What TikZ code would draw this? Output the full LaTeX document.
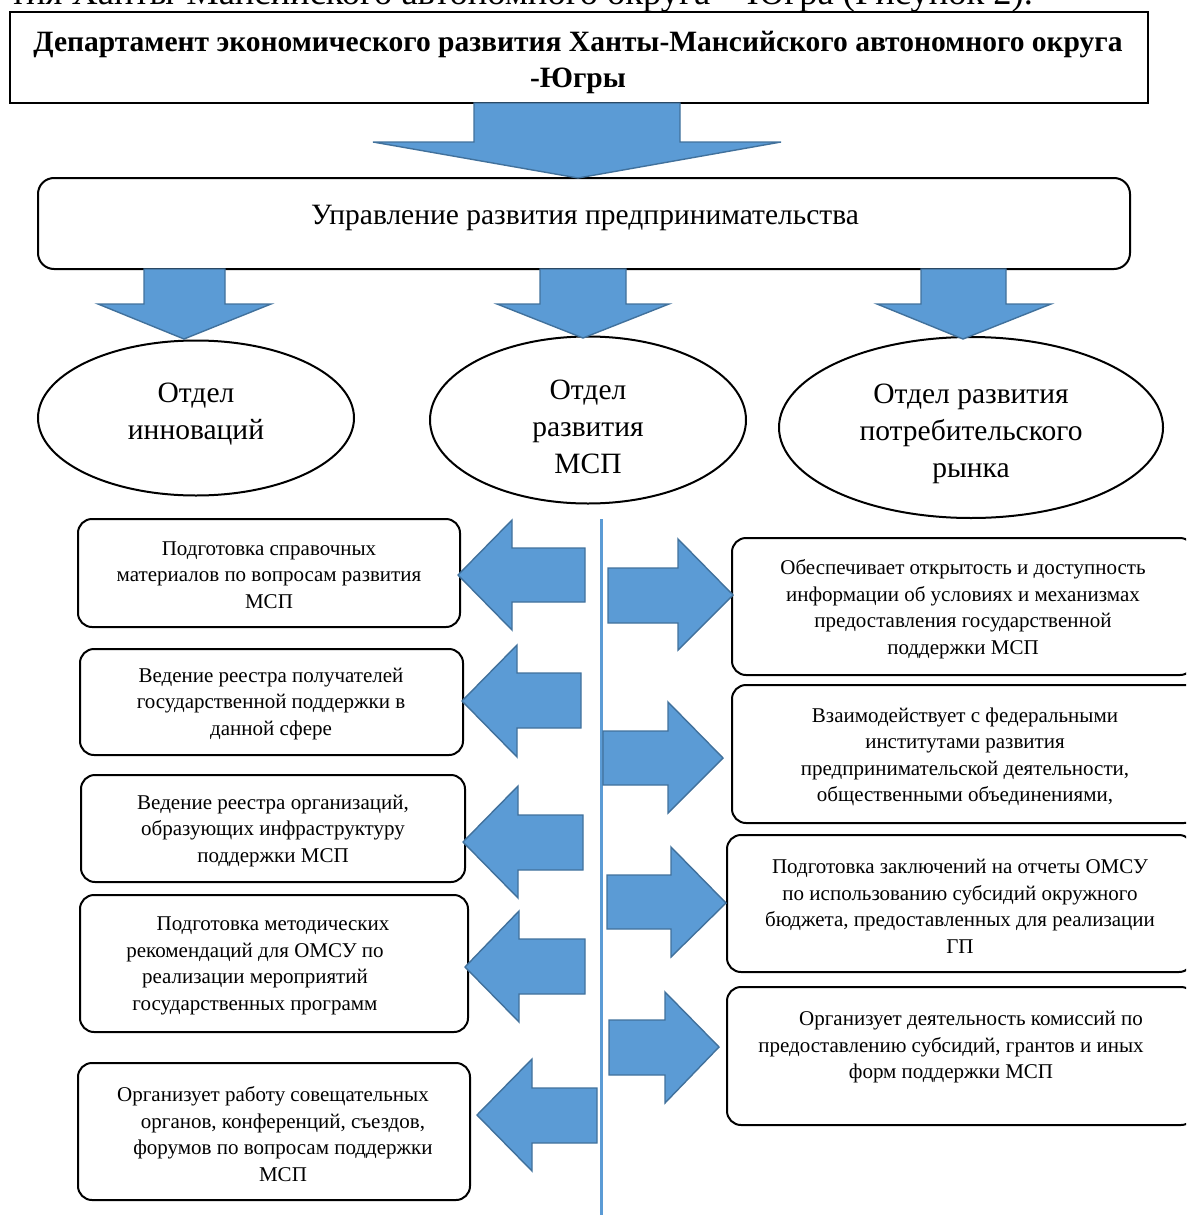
\documentclass[tikz,border=0pt]{standalone}
\usepackage{fontspec}
\setmainfont{Liberation Serif}
\usetikzlibrary{shapes.geometric}
\definecolor{arrfill}{HTML}{5B9BD5}
\definecolor{arrline}{HTML}{41719C}
\tikzset{
  blockarrow/.style={fill=arrfill, draw=arrline, line width=1.4pt, line join=miter},
  framebox/.style={draw=black, line width=2pt, rectangle, inner sep=0pt},
  roundbox/.style={draw=black, line width=2pt, rectangle, rounded corners=14pt, inner sep=0pt},
  oval/.style={draw=black, line width=2pt, ellipse, inner sep=0pt},
  boxtext/.style={align=center, font=\fontsize{21}{26.5}\selectfont, inner sep=0pt},
  bigtext/.style={align=center, font=\fontsize{29.5}{37}\selectfont, inner sep=0pt},
  vline/.style={draw=arrfill, line width=3pt}
}
\newcommand{\blockH}[8]{\draw[blockarrow] (#1,#2) -- (#3,#5) -- (#3,#7) -- (#4,#7) -- (#4,#8) -- (#3,#8) -- (#3,#6) -- cycle;}
\begin{document}
\begin{tikzpicture}[x=1pt,y=-1pt]
\useasboundingbox (0,0) rectangle (1186,1215);
\clip (0,0) rectangle (1186,1215);
% cut-off line of running text above the figure
\node[anchor=base west, inner sep=0pt, font=\fontsize{36.5}{40}\selectfont] (caption) at (10,5) {тия Ханты-Мансийского автономного округа – Югра (Рисунок 2).};

% top frame
\node[framebox, minimum width=1138pt, minimum height=91pt] (dep) at (579,57.5) {};
\node[align=center, inner sep=0pt, font=\fontsize{29.5}{36}\selectfont\bfseries] (dept) at (578,62)
  {Департамент экономического развития Ханты-Мансийского автономного округа\\-Югры};

% management box
\node[roundbox, minimum width=1092pt, minimum height=91pt, rounded corners=16pt] (upr) at (584,223.5) {};
\node[bigtext] (uprt) at (585,218) {Управление развития предпринимательства};

% ellipses
\node[oval, minimum width=316pt, minimum height=155pt] (e1) at (196,418) {};
\node[oval, minimum width=316pt, minimum height=167pt] (e2) at (588,420) {};
\node[oval, minimum width=384pt, minimum height=181pt] (e3) at (971,427.5) {};
\node[bigtext] (e1t) at (196,414.5) {Отдел\\инноваций};
\node[bigtext] (e2t) at (588,427) {Отдел\\развития\\МСП};
\node[bigtext] (e3t) at (971,434) {Отдел развития\\потребительского\\рынка};

% left boxes
\node[roundbox, minimum width=382pt, minimum height=108pt] (l1) at (269,573) {};
\node[roundbox, minimum width=383pt, minimum height=106pt] (l2) at (271.5,702) {};
\node[roundbox, minimum width=384pt, minimum height=107pt] (l3) at (273,828.5) {};
\node[roundbox, minimum width=388pt, minimum height=137pt] (l4) at (274,963.5) {};
\node[roundbox, minimum width=392pt, minimum height=137pt] (l5) at (274,1131.5) {};
\node[boxtext] (l1t) at (269,575) {Подготовка справочных\\материалов по вопросам развития\\МСП};
\node[boxtext] (l2t) at (271,704) {Ведение реестра получателей\\государственной поддержки в\\данной сфере};
\node[boxtext] (l3t) at (273,831) {Ведение реестра организаций,\\образующих инфраструктуру\\поддержки МСП};
\node[boxtext] (l4t) at (255,966) {\hspace*{36pt}Подготовка методических\\рекомендаций для ОМСУ по\\реализации мероприятий\\государственных программ};
\node[boxtext] (l5t) at (283,1134) {Организует работу совещательных\hspace*{20pt}\\органов, конференций, съездов,\\форумов по вопросам поддержки\\МСП};

% right boxes
\node[roundbox, minimum width=462pt, minimum height=137pt] (r1) at (963,606.5) {};
\node[roundbox, minimum width=466pt, minimum height=138pt] (r2) at (965,754) {};
\node[roundbox, minimum width=466pt, minimum height=137pt] (r3) at (960,903.5) {};
\node[roundbox, minimum width=468pt, minimum height=138pt] (r4) at (961,1056) {};
\node[boxtext] (r1t) at (963,609) {Обеспечивает открытость и доступность\\информации об условиях и механизмах\\предоставления государственной\\поддержки МСП};
\node[boxtext] (r2t) at (965,757) {Взаимодействует с федеральными\\институтами развития\\предпринимательской деятельности,\\общественными объединениями,};
\node[boxtext] (r3t) at (960,906.5) {Подготовка заключений на отчеты ОМСУ\\по использованию субсидий окружного\\бюджета, предоставленных для реализации\\ГП};
\node[boxtext] (r4t) at (951,1047.5) {\hspace*{40pt}Организует деятельность комиссий по\\предоставлению субсидий, грантов и иных\\форм поддержки МСП};

% central vertical line
\coordinate (vtop) at (601,519);
\coordinate (vbot) at (601,1220);
\draw[vline] (vtop) -- (vbot);

% big down arrow
\draw[blockarrow] (474,103) -- (474,142) -- (373,142) -- (578,178) -- (781,142) -- (680,142) -- (680,103) -- cycle;
% three small down arrows
\draw[blockarrow] (144,269) -- (144,304) -- (98,304) -- (184,339) -- (271,304) -- (225,304) -- (225,269) -- cycle;
\draw[blockarrow] (540,269) -- (540,304) -- (497,304) -- (583,338) -- (669,304) -- (626,304) -- (626,269) -- cycle;
\draw[blockarrow] (921,269) -- (921,304) -- (877,304) -- (963,339) -- (1051,304) -- (1006,304) -- (1006,269) -- cycle;

% left arrows: tip x, tip y, head base x, shaft end x, head top, head bottom, shaft top, shaft bottom
\blockH{458}{575}{512}{585}{520}{630}{548}{602}
\blockH{462}{701}{517}{581}{645}{757}{673}{728}
\blockH{463}{842}{518}{583}{786}{898}{815}{870}
\blockH{465}{967}{519}{585}{911}{1022}{939}{994}
\blockH{477}{1115}{532}{597}{1059}{1171}{1088}{1143}
% right arrows
\blockH{733}{595}{678}{608}{539}{650}{568}{623}
\blockH{723}{758}{668}{603}{702}{813}{731}{785}
\blockH{726}{903}{671}{607}{847}{957}{875}{929}
\blockH{719}{1047}{665}{609}{992}{1103}{1020}{1075}
\end{tikzpicture}
\end{document}
